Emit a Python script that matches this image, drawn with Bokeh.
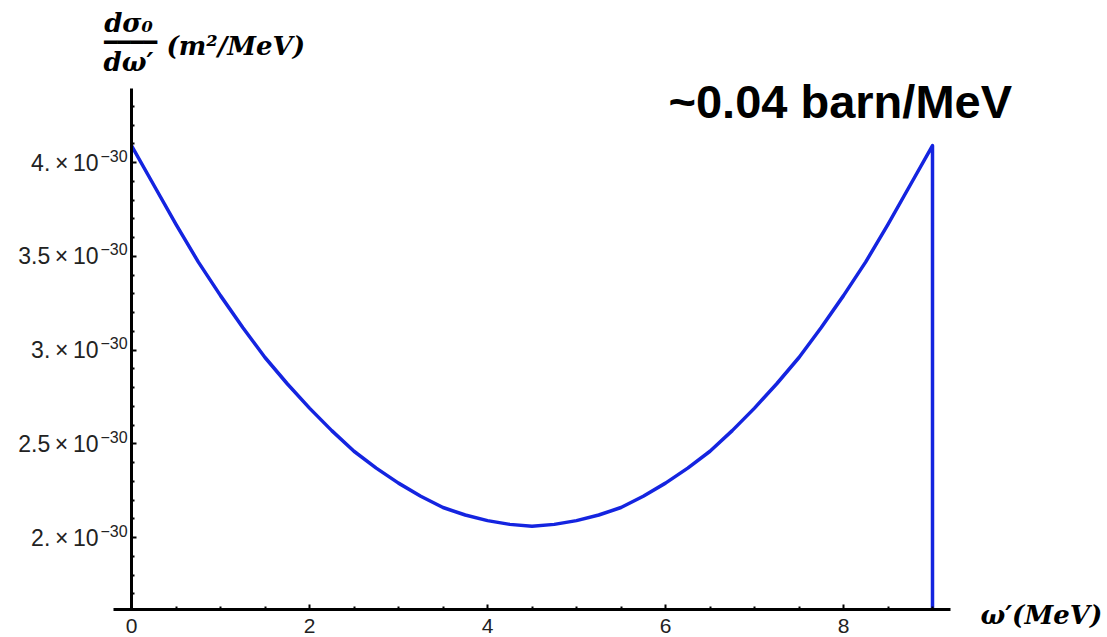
from bokeh.plotting import figure
from bokeh.models import (Range1d, FixedTicker, CustomJSTickFormatter, Label,
                          LabelSet, ColumnDataSource)
from bokeh.core.properties import value
from bokeh.embed import file_html
from bokeh.resources import INLINE

# ---- data ----
OMEGA = [0.0, 0.25, 0.5, 0.75, 1.0, 1.25, 1.5, 1.75, 2.0, 2.25, 2.5, 2.75,
         3.0, 3.25, 3.5, 3.75, 4.0, 4.25, 4.5, 4.75, 5.0, 5.25, 5.5, 5.75,
         6.0, 6.25, 6.5, 6.75, 7.0, 7.25, 7.5, 7.75, 8.0, 8.25, 8.5, 8.75,
         9.0]
SIGMA = [4.09e-30, 3.88e-30, 3.67e-30, 3.47e-30, 3.29e-30, 3.12e-30,
         2.96e-30, 2.82e-30, 2.69e-30, 2.57e-30, 2.46e-30, 2.37e-30,
         2.29e-30, 2.22e-30, 2.16e-30, 2.12e-30, 2.09e-30, 2.07e-30,
         2.06e-30, 2.07e-30, 2.09e-30, 2.12e-30, 2.16e-30, 2.22e-30,
         2.29e-30, 2.37e-30, 2.46e-30, 2.57e-30, 2.69e-30, 2.82e-30,
         2.96e-30, 3.12e-30, 3.29e-30, 3.47e-30, 3.67e-30, 3.88e-30,
         4.09e-30]

X_TICKS = [0, 2, 4, 6, 8]
X_MINOR = [0.5, 1.0, 1.5, 2.5, 3.0, 3.5, 4.5, 5.0, 5.5, 6.5, 7.0, 7.5, 8.5, 9.0]
Y_TICKS = [2.0e-30, 2.5e-30, 3.0e-30, 3.5e-30, 4.0e-30]
Y_MINOR = [v * 1e-31 for v in (17, 18, 19, 21, 22, 23, 24, 26, 27, 28, 29,
                               31, 32, 33, 34, 36, 37, 38, 39, 41, 42, 43)]
Y_EXPONENT = "\u221230"
NOTE_TEXT = "~0.04 barn/MeV"
Y_NUM = "d\u03c3\u2080"
Y_DEN = "d\u03c9\u2032"
Y_UNIT = "(m\u00b2/MeV)"
X_LABEL = "\u03c9\u2032(MeV)"

# ---- layout helpers (pixel -> data for placement) ----
W, H = 1107, 637

def dx(px):
    return (px - 131) / 89.0

def dy(py):
    return (4.0 - (py - 162) / 187.5) * 1e-30

X_AXIS_SPAN = (dx(113), dx(950))
Y_AXIS_SPAN = (dy(609), dy(88))
Y_ORIGIN = Y_AXIS_SPAN[0]

p = figure(width=W, height=H, title=None,
           x_range=Range1d(dx(0), dx(W)),
           y_range=Range1d(dy(H), dy(0)),
           output_backend="svg", toolbar_location=None,
           min_border_left=0, min_border_right=0,
           min_border_top=0, min_border_bottom=0)
p.outline_line_color = None
p.grid.visible = False
p.background_fill_color = "white"
p.border_fill_color = "white"

xa = p.xaxis[0]
xa.fixed_location = Y_ORIGIN
xa.bounds = X_AXIS_SPAN
xa.ticker = FixedTicker(ticks=X_TICKS, minor_ticks=X_MINOR)
xa.axis_line_width = 3
xa.axis_line_color = "black"
xa.major_tick_in = 5
xa.major_tick_out = 0
xa.minor_tick_in = 3
xa.minor_tick_out = 0
xa.major_tick_line_width = 2
xa.minor_tick_line_width = 2
xa.major_label_text_font = "Liberation Sans"
xa.major_label_text_font_size = "21px"
xa.major_label_text_color = "#222222"
xa.major_label_standoff = 9

ya = p.yaxis[0]
ya.fixed_location = 0
ya.bounds = Y_AXIS_SPAN
ya.ticker = FixedTicker(ticks=Y_TICKS, minor_ticks=Y_MINOR)
ya.formatter = CustomJSTickFormatter(code="""
const m = Math.round(tick * 1e31) / 10;
let s = m.toString();
if (s.indexOf('.') < 0) { s = s + '.'; }
return s + '\\u2009\\u00d7\\u2009' + '10';
""")
ya.axis_line_width = 3
ya.axis_line_color = "black"
ya.major_tick_in = 5
ya.major_tick_out = 0
ya.minor_tick_in = 3
ya.minor_tick_out = 0
ya.major_tick_line_width = 2
ya.minor_tick_line_width = 2
ya.major_label_text_font = "Liberation Sans"
ya.major_label_text_font_size = "23px"
ya.major_label_text_color = "#222222"
ya.major_label_standoff = 33

# curve, then the drop at the end point down to the axis
p.line(OMEGA + [OMEGA[-1]], SIGMA + [Y_ORIGIN], line_color="#1424e0",
       line_width=3.5, line_join="round")

exp_src = ColumnDataSource(dict(x=[0] * len(Y_TICKS), y=Y_TICKS,
                                t=[Y_EXPONENT] * len(Y_TICKS)))
p.add_layout(LabelSet(x="x", y="y", text="t", source=exp_src,
                      x_offset=-31, y_offset=7,
                      text_font=value("Liberation Sans"),
                      text_font_size=value("16px"),
                      text_color="#222222",
                      text_align="left", text_baseline="middle"))

serif = dict(text_font="DejaVu Serif", text_font_style="bold italic",
             text_font_size="26px", text_color="black",
             text_baseline="middle")

p.add_layout(Label(x=dx(668), y=dy(101), text=NOTE_TEXT,
                   text_font="Liberation Sans", text_font_style="bold",
                   text_font_size="47px", text_color="black",
                   text_align="left", text_baseline="middle"))
p.add_layout(Label(x=dx(128), y=dy(22), text=Y_NUM, text_align="center",
                   **serif))
p.add_layout(Label(x=dx(130), y=dy(42), text="\u2501\u2501\u2501\u2501",
                   text_font="DejaVu Sans Mono", text_font_size="22px",
                   text_color="black", text_align="center",
                   text_baseline="middle"))
p.add_layout(Label(x=dx(128), y=dy(61), text=Y_DEN, text_align="center",
                   **serif))
p.add_layout(Label(x=dx(166), y=dy(45), text=Y_UNIT, text_align="left",
                   **serif))
p.add_layout(Label(x=dx(980), y=dy(614), text=X_LABEL, text_align="left",
                   **serif))

open("out.html", "w").write(file_html(p, INLINE))
